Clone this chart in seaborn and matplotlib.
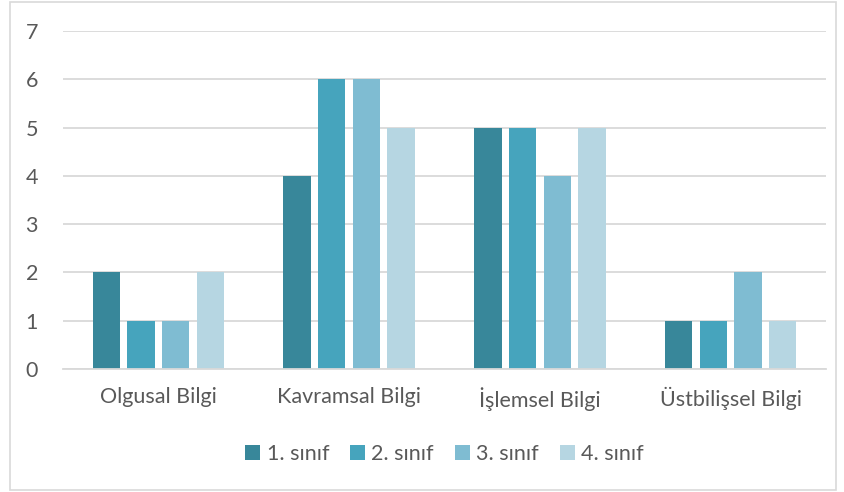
import matplotlib
matplotlib.use("Agg")
import matplotlib.pyplot as plt
import seaborn as sns
import pandas as pd
from matplotlib.patches import Rectangle

categories = ["Olgusal Bilgi", "Kavramsal Bilgi", "İşlemsel Bilgi", "Üstbilişsel Bilgi"]
series_names = ["1. sınıf", "2. sınıf", "3. sınıf", "4. sınıf"]
s1 = [2, 4, 5, 1]
s2 = [1, 6, 5, 1]
s3 = [1, 6, 4, 2]
s4 = [2, 5, 5, 1]
yticks = [0, 1, 2, 3, 4, 5, 6, 7]
colors = ["#38879A", "#46A4BD", "#7FBCD2", "#B6D6E2"]

rows = []
for name, vals in zip(series_names, [s1, s2, s3, s4]):
    for c, v in zip(categories, vals):
        rows.append({"cat": c, "series": name, "value": v})
df = pd.DataFrame(rows)

sns.set_theme(style="white")
plt.rcParams["font.family"] = ["Lato", "DejaVu Sans"]

fig = plt.figure(figsize=(8.44, 4.92), dpi=100)
ax = fig.add_axes([63/844, 0.25, (826-63)/844, (369-31)/492])

sns.barplot(data=df, x="cat", y="value", hue="series", palette=colors,
            width=0.728, gap=0.21, ax=ax, saturation=1, legend=True,
            linewidth=0)

ax.set_ylim(0, 7)
ax.set_xlim(-0.5, 3.5)
ax.set_yticks(yticks)
ax.yaxis.grid(True, color="#D9D9D9", linewidth=1.3)
ax.set_axisbelow(True)
for s in ["top", "right", "left"]:
    ax.spines[s].set_visible(False)
ax.spines["bottom"].set_color("#D9D9D9")
ax.spines["bottom"].set_linewidth(1.3)
ax.tick_params(axis="both", length=0, labelsize=15.5, colors="#595959")
ax.tick_params(axis="y", pad=18)
ax.tick_params(axis="x", pad=13)
ax.set_xlabel("")
ax.set_ylabel("")

leg = ax.legend(loc="upper center", bbox_to_anchor=(0.5, -0.165), ncol=4,
                frameon=False, fontsize=15.5, handlelength=0.7, handleheight=0.7,
                handletextpad=0.3, columnspacing=0.97)
for t in leg.get_texts():
    t.set_color("#595959")
for h in leg.legend_handles:
    h.set_linewidth(0)

fig.patches.append(Rectangle((10/844, 2/492), (836-10)/844, (490-2)/492,
                             transform=fig.transFigure, fill=False,
                             edgecolor="#D9D9D9", linewidth=1.2))

fig.savefig("out.png", dpi=100)
